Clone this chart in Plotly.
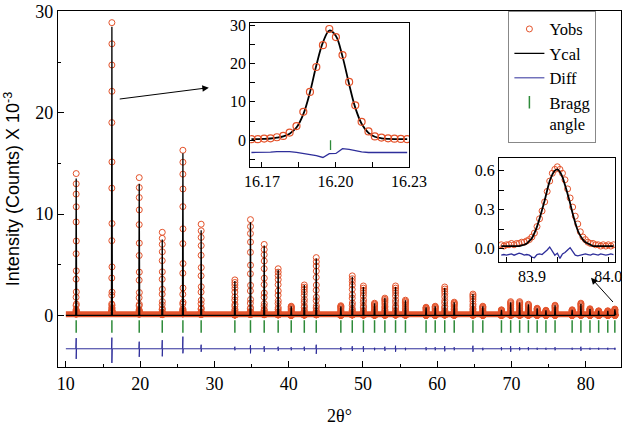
import plotly.graph_objects as go

# ---------------- main pattern data (2theta, intensity x 10^-3) ----------------
peak_pos = [11.39, 16.198, 19.88, 22.98, 25.76, 28.22, 32.76, 34.86, 36.71, 38.59,
            40.35, 42.11, 43.72, 47.03, 48.57, 50.07, 51.57, 52.96, 54.40, 55.73,
            58.51, 59.74, 61.02, 62.30, 64.82, 66.15, 68.66, 69.90, 71.11, 72.29,
            73.47, 74.65, 75.88, 78.18, 79.36, 80.58, 81.75, 82.98, 83.93]
peak_obs = [14.0, 28.9, 13.6, 8.2, 16.3, 9.0, 3.5, 9.45, 7.0, 4.6,
            0.9, 3.0, 5.7, 0.95, 3.9, 2.9, 1.2, 1.7, 2.9, 1.5,
            0.8, 0.9, 2.8, 1.3, 2.1, 0.9, 0.55, 1.35, 1.35, 1.1,
            0.7, 0.5, 1.0, 0.55, 1.2, 0.65, 0.45, 0.45, 0.62]
peak_cal = [13.5, 28.5, 13.0, 7.5, 16.0, 8.4, 3.4, 9.2, 6.9, 4.5,
            0.9, 3.0, 5.6, 0.9, 3.8, 2.8, 1.2, 1.7, 2.8, 1.5,
            0.8, 0.9, 2.7, 1.3, 2.1, 0.9, 0.55, 1.3, 1.3, 1.1,
            0.7, 0.5, 1.0, 0.55, 1.15, 0.65, 0.45, 0.45, 0.6]
diff_hi = [-2.25, -2.2, -2.6, -2.45, -2.1, -2.9, -3.1, -2.95, -3.05, -3.1,
           -3.15, -3.1, -2.9, -3.15, -3.05, -3.05, -3.2, -3.1, -3.0, -3.2,
           -3.15, -3.15, -3.05, -3.15, -3.0, -3.2, -3.15, -3.05, -3.15, -3.15,
           -3.2, -3.2, -3.15, -3.2, -3.1, -3.2, -3.2, -3.2, -3.2]
diff_lo = [-4.3, -4.7, -4.1, -4.05, -3.75, -3.6, -3.45, -3.75, -3.6, -3.5,
           -3.45, -3.5, -3.8, -3.45, -3.5, -3.6, -3.45, -3.5, -3.6, -3.45,
           -3.45, -3.45, -3.55, -3.45, -3.6, -3.45, -3.45, -3.6, -3.45, -3.45,
           -3.4, -3.4, -3.45, -3.4, -3.5, -3.4, -3.4, -3.4, -3.4]
scan_range = [10.0, 84.05]
diff_base = -3.3
bragg_level = -1.1

# ---------------- inset 1 : peak at 16.2 ----------------
ins1_x = [16.1657, 16.1683, 16.1709, 16.1735, 16.1761, 16.1787, 16.1813, 16.1841,
          16.1869, 16.1896, 16.1922, 16.1949, 16.1975, 16.2002, 16.2029, 16.2056,
          16.2081, 16.2107, 16.2135, 16.2161, 16.2188, 16.2215, 16.2241, 16.2267, 16.2293]
ins1_obs = [0.26, 0.26, 0.43, 0.5, 0.78, 1.13, 2.0, 3.7, 7.4, 12.6, 19.1, 24.8, 29.0,
            26.9, 22.2, 15.2, 9.1, 4.8, 2.3, 1.0, 0.7, 0.5, 0.4, 0.35, 0.26]
ins1_cal = [0.3, 0.3, 0.35, 0.45, 0.65, 1.0, 1.7, 3.3, 6.8, 12.5, 19.5, 25.5, 28.6,
            27.2, 21.8, 14.6, 8.5, 4.3, 1.9, 0.9, 0.5, 0.35, 0.3, 0.3, 0.3]
ins1_diff = [-3.2, -3.2, -3.15, -3.1, -3.0, -2.95, -3.0, -3.15, -3.4, -3.7, -4.0, -4.5,
             -3.5, -3.45, -2.2, -2.4, -2.75, -3.05, -3.2, -3.2, -3.2, -3.2, -3.2, -3.2, -3.2]
ins1_bragg_x = [16.198]
ins1_bragg_y = [-1.3]

# ---------------- inset 2 : peak at 83.93 ----------------
ins2_x = [83.8600, 83.8633, 83.8667, 83.8700, 83.8733, 83.8767, 83.8800, 83.8833, 83.8867,
          83.8900, 83.8933, 83.8967, 83.9000, 83.9033, 83.9067, 83.9100, 83.9133, 83.9167,
          83.9200, 83.9233, 83.9267, 83.9300, 83.9333, 83.9367, 83.9400, 83.9433, 83.9467,
          83.9500, 83.9533, 83.9567, 83.9600, 83.9633, 83.9667, 83.9700, 83.9733, 83.9767,
          83.9800, 83.9833, 83.9867, 83.9900, 83.9933, 83.9967, 84.0000, 84.0033, 84.0067]
ins2_obs = [0.03, 0.02, 0.03, 0.03, 0.04, 0.03, 0.04, 0.04, 0.05, 0.05, 0.06, 0.07,
            0.09, 0.12, 0.17, 0.23, 0.29, 0.36, 0.44, 0.52, 0.58, 0.61, 0.63, 0.61,
            0.58, 0.53, 0.46, 0.39, 0.32, 0.25, 0.19, 0.13, 0.09, 0.07, 0.05, 0.04,
            0.04, 0.03, 0.03, 0.02, 0.03, 0.02, 0.03, 0.02, 0.03]
ins2_cal = [0.02, 0.02, 0.02, 0.02, 0.02, 0.02, 0.02, 0.02, 0.025, 0.03, 0.04, 0.06,
            0.08, 0.12, 0.17, 0.23, 0.30, 0.37, 0.45, 0.52, 0.57, 0.60, 0.61, 0.59,
            0.55, 0.49, 0.42, 0.35, 0.27, 0.20, 0.14, 0.10, 0.07, 0.05, 0.04, 0.03,
            0.02, 0.02, 0.02, 0.02, 0.02, 0.02, 0.02, 0.02, 0.02]
ins2_diff = [-0.05, -0.045, -0.05, -0.045, -0.04, -0.05, -0.045, -0.035, -0.04, -0.05,
             -0.045, -0.05, -0.065, -0.07, -0.045, -0.04, -0.045, -0.03, -0.01, 0.013,
             -0.02, -0.05, -0.035, -0.075, -0.04, -0.03, -0.01, 0.008, -0.02, -0.05,
             -0.055, -0.05, -0.045, -0.04, -0.045, -0.05, -0.04, -0.045, -0.05, -0.04,
             -0.045, -0.05, -0.045, -0.04, -0.045]

# ---------------- styles ----------------
C_OBS = "#E4532B"
C_CAL = "#000000"
C_DIFF = "#2E2E9A"
C_BRAGG = "#2E8B3A"
SERIF = "Liberation Serif"
SANS = "Liberation Sans"

# ---------------- build main traces from the arrays ----------------
ref_center = ins1_x[ins1_obs.index(max(ins1_obs))]
prof_max = max(ins1_obs)
obs_x, obs_y = [], []
for p, h in zip(peak_pos, peak_obs):
    for xv, v in zip(ins1_x, ins1_obs):
        obs_x.append(p + (xv - ref_center))
        obs_y.append(h * v / prof_max)

cal_x, cal_y = [scan_range[0]], [0]
for p, h in zip(peak_pos, peak_cal):
    cal_x += [p - 0.06, p, p + 0.06]
    cal_y += [0, h, 0]
cal_x.append(scan_range[1]); cal_y.append(0)

dif_x, dif_y = [scan_range[0]], [diff_base]
for p, hi, lo in zip(peak_pos, diff_hi, diff_lo):
    dif_x += [p - 0.05, p, p, p + 0.05]
    dif_y += [diff_base, hi, lo, diff_base]
dif_x.append(scan_range[1]); dif_y.append(diff_base)

fig = go.Figure()
# dense baseline of observed points (appears as a thick band)
fig.add_trace(go.Scatter(x=scan_range, y=[0.1, 0.1], mode="lines",
                         line=dict(color=C_OBS, width=6), showlegend=False, hoverinfo="skip"))
fig.add_trace(go.Scatter(x=obs_x, y=obs_y, mode="markers", name="Yobs",
                         marker=dict(symbol="circle-open", size=6, color=C_OBS,
                                     line=dict(width=1, color=C_OBS))))
fig.add_trace(go.Scatter(x=cal_x, y=cal_y, mode="lines", name="Ycal",
                         line=dict(color=C_CAL, width=1.3)))
fig.add_trace(go.Scatter(x=dif_x, y=dif_y, mode="lines", name="Diff",
                         line=dict(color=C_DIFF, width=1)))
fig.add_trace(go.Scatter(x=peak_pos, y=[bragg_level] * len(peak_pos), mode="markers",
                         name="Bragg<br>angle",
                         marker=dict(symbol="line-ns", size=9, color=C_BRAGG,
                                     line=dict(width=1.5, color=C_BRAGG))))

# inset 1
fig.add_trace(go.Scatter(x=ins1_x, y=ins1_diff, mode="lines", xaxis="x2", yaxis="y2",
                         line=dict(color=C_DIFF, width=1.3), showlegend=False))
fig.add_trace(go.Scatter(x=ins1_x, y=ins1_cal, mode="lines", xaxis="x2", yaxis="y2",
                         line=dict(color=C_CAL, width=1.8, shape="spline"), showlegend=False))
fig.add_trace(go.Scatter(x=ins1_x, y=ins1_obs, mode="markers", xaxis="x2", yaxis="y2",
                         marker=dict(symbol="circle-open", size=7, color=C_OBS,
                                     line=dict(width=1.2, color=C_OBS)), showlegend=False))
fig.add_trace(go.Scatter(x=ins1_bragg_x, y=ins1_bragg_y, mode="markers", xaxis="x2", yaxis="y2",
                         marker=dict(symbol="line-ns", size=7, color=C_BRAGG,
                                     line=dict(width=1.3, color=C_BRAGG)), showlegend=False))
# inset 2
fig.add_trace(go.Scatter(x=ins2_x, y=ins2_diff, mode="lines", xaxis="x3", yaxis="y3",
                         line=dict(color=C_DIFF, width=1.3), showlegend=False))
fig.add_trace(go.Scatter(x=ins2_x, y=ins2_obs, mode="markers", xaxis="x3", yaxis="y3",
                         marker=dict(symbol="circle-open", size=6, color=C_OBS,
                                     line=dict(width=1, color=C_OBS)), showlegend=False))
fig.add_trace(go.Scatter(x=ins2_x, y=ins2_cal, mode="lines", xaxis="x3", yaxis="y3",
                         line=dict(color=C_CAL, width=1.8, shape="spline"), showlegend=False))

axis_common = dict(showline=True, linecolor="black", linewidth=1.2, mirror=True,
                   ticks="inside", tickcolor="black", showgrid=False, zeroline=False,
                   ticklabeloverflow="allow")
tick18 = dict(family=SERIF, size=18, color="black")
tick16 = dict(family=SERIF, size=16, color="black")

fig.update_layout(
    width=640, height=426,
    margin=dict(l=58, r=2, t=8, b=59),
    paper_bgcolor="white", plot_bgcolor="white",
    font=dict(family=SERIF, size=18, color="black"),
    xaxis=dict(domain=[0, 1], range=[8.94, 84.76], anchor="y",
               tickvals=[10, 20, 30, 40, 50, 60, 70, 80], ticklen=6,
               minor=dict(dtick=5, ticklen=3, ticks="inside", tickcolor="black"),
               tickfont=tick18,
               title=dict(text="2θ°", font=dict(family=SERIF, size=18, color="black"), standoff=17),
               **axis_common),
    yaxis=dict(domain=[0, 1], range=[-5.1, 30.05], anchor="x",
               tickvals=[0, 10, 20, 30], ticklen=6,
               minor=dict(tickvals=[5, 15, 25], ticklen=3, ticks="inside", tickcolor="black"),
               tickfont=tick18,
               title=dict(text="Intensity (Counts) X 10<sup>-3</sup>",
                          font=dict(family=SANS, size=18, color="black"), standoff=10),
               **axis_common),
    xaxis2=dict(domain=[0.3414, 0.6241], range=[16.1652, 16.2302], anchor="y2",
                tickvals=[16.17, 16.20, 16.23], ticktext=["16.17", "16.20", "16.23"], ticklen=5,
                minor=dict(tickvals=[16.185, 16.215], ticklen=5, ticks="inside", tickcolor="black"),
                tickfont=tick16, **axis_common),
    yaxis2=dict(domain=[0.5627, 0.9666], range=[-6.9, 30.6], anchor="x2",
                tickvals=[0, 10, 20, 30], ticklen=5,
                minor=dict(tickvals=[-5, 5, 15, 25], ticklen=5, ticks="inside", tickcolor="black"),
                tickfont=tick16, **axis_common),
    xaxis3=dict(domain=[0.7833, 0.9891], range=[83.857, 84.0085], anchor="y3",
                tickvals=[83.9, 84.0], ticktext=["83.9", "84.0"], ticklen=5,
                minor=dict(tickvals=[83.8667, 83.9333, 83.9667], ticklen=5, ticks="inside",
                           tickcolor="black"),
                tickfont=tick16, **axis_common),
    yaxis3=dict(domain=[0.2953, 0.5858], range=[-0.1015, 0.694], anchor="x3",
                tickvals=[0, 0.3, 0.6], ticktext=["0.0", "0.3", "0.6"], ticklen=5,
                minor=dict(tickvals=[0.15, 0.45], ticklen=5, ticks="inside", tickcolor="black"),
                tickfont=tick16, **axis_common),
    legend=dict(x=0.80, y=1.0008, xanchor="left", yanchor="top",
                bgcolor="white", bordercolor="#888888", borderwidth=1,
                font=dict(family=SERIF, size=16.5, color="black"), valign="top",
                tracegroupgap=0),
    showlegend=True,
)

fig.add_annotation(x=29.25, y=22.48, ax=17.05, ay=21.34, xref="x", yref="y",
                   axref="x", ayref="y", showarrow=True, arrowhead=2, arrowsize=1.3,
                   arrowwidth=1, arrowcolor="black", text="")
fig.add_annotation(x=80.72, y=3.71, ax=83.86, ay=1.17, xref="x", yref="y",
                   axref="x", ayref="y", showarrow=True, arrowhead=2, arrowsize=1.3,
                   arrowwidth=1, arrowcolor="black", text="")

fig.write_html("out.html", config={"displayModeBar": False},
               post_script="document.body.style.margin='0';")
